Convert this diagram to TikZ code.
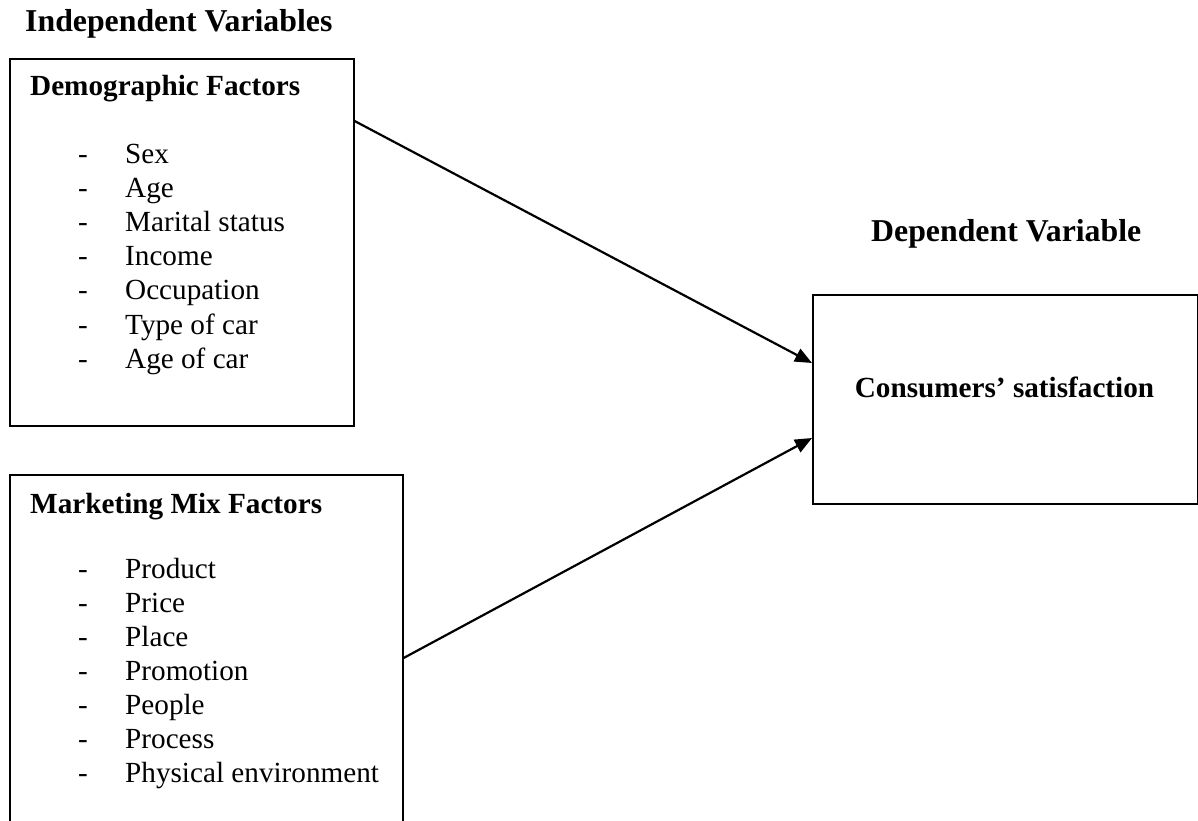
\documentclass[tikz,border=0pt]{standalone}
\usepackage{fontspec}
\setmainfont{Liberation Serif}
\usetikzlibrary{arrows.meta,calc}
\tikzset{
  box/.style={draw=black, line width=1.6pt, anchor=north west, inner sep=0pt},
  title/.style={anchor=base west, inner sep=0pt, font=\fontsize{31.8}{34}\selectfont\bfseries},
  head/.style={anchor=base west, inner sep=0pt, font=\fontsize{29.2}{32}\selectfont\bfseries},
  item/.style={anchor=base west, inner sep=0pt, font=\fontsize{29.2}{32}\selectfont},
  link/.style={line width=2.2pt, -{Triangle[length=17pt,width=14pt]}}
}
\begin{document}
\begin{tikzpicture}[x=1pt,y=-1pt]
\useasboundingbox (0,0) rectangle (1198,820);
\clip (0,0) rectangle (1198,820);

% headings
\node[title] (indep) at (25,31) {Independent Variables};
\node[title] (dep) at (871,241) {Dependent Variable};

% frames
\node[box, minimum width=344pt, minimum height=367pt] (demo) at (9,58) {};
\node[box, minimum width=393pt, minimum height=370pt] (mix) at (9,474) {};
\node[box, minimum width=385pt, minimum height=209pt] (sat) at (812,294) {};

% demographic factors
\node[head] (demohead) at (30,95) {Demographic Factors};
\foreach \t [count=\i from 0] in {Sex,Age,Marital status,Income,Occupation,Type of car,Age of car}{
  \node[item] (dd\i) at (78,163+34.2*\i) {-};
  \node[item] (di\i) at (125,163+34.2*\i) {\t};
}

% marketing mix factors
\node[head] (mixhead) at (30,513) {Marketing Mix Factors};
\foreach \t [count=\i from 0] in {Product,Price,Place,Promotion,People,Process,Physical environment}{
  \node[item] (md\i) at (78,578+34*\i) {-};
  \node[item] (mi\i) at (125,578+34*\i) {\t};
}

% dependent variable
\node[anchor=base, inner sep=0pt, font=\fontsize{29.2}{32}\selectfont\bfseries] (sattext) at (1004.5,397) {Consumers’ satisfaction};

% relations
\draw[link] ($(demo.north east)+(0,63)$) -- ($(sat.north west)+(0,69)$);
\draw[link] ($(mix.north east)+(0,184)$) -- ($(sat.north west)+(0,144)$);
\end{tikzpicture}
\end{document}
